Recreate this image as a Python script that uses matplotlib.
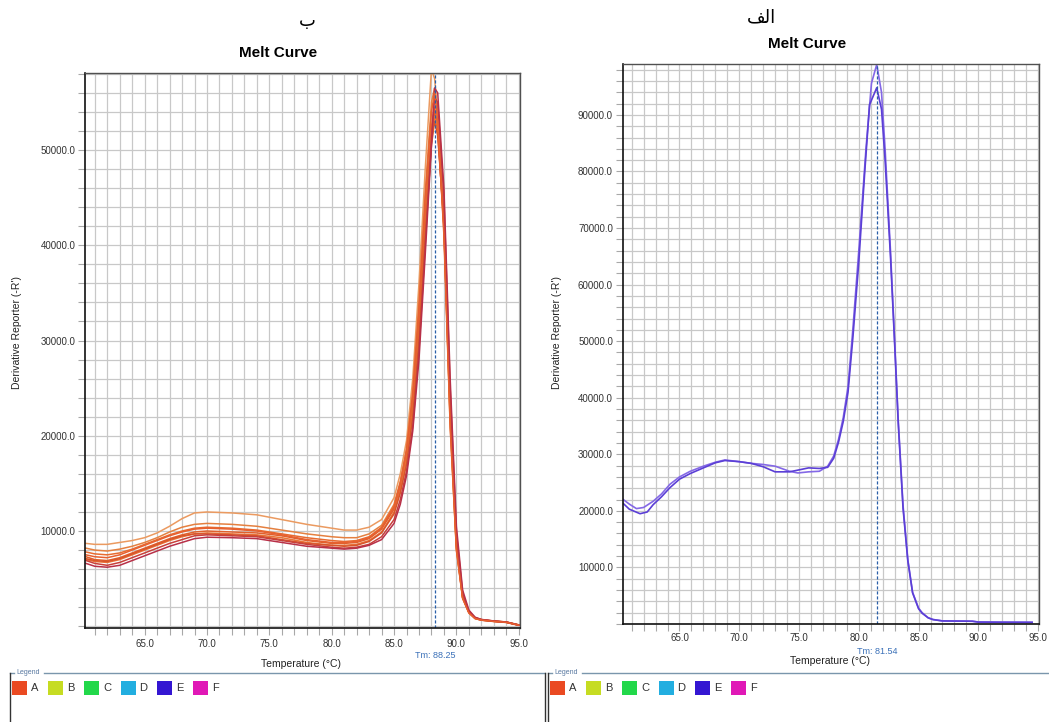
import matplotlib
matplotlib.use("Agg")
import matplotlib.pyplot as plt
from matplotlib.patches import Rectangle
from matplotlib.lines import Line2D
from matplotlib.ticker import MultipleLocator, FormatStrFormatter

plt.rcParams['font.family'] = ['Liberation Sans', 'DejaVu Sans']

# ---- data: panel "ب" (left), 9 wells, derivative reporter vs temperature
temps_b = [60.3, 61, 62, 63, 64, 65, 66, 67, 68, 69, 70, 72, 74, 76, 78, 80, 81, 82, 83, 84,
           85, 85.5, 86, 86.5, 87, 87.5, 88, 88.25, 88.5, 89, 89.5, 90, 90.5, 91, 91.5, 92, 93, 94, 95]
well_b1 = [8700, 8600, 8600, 8800, 9000, 9300, 9800, 10500, 11300, 11900, 12000, 11900, 11700, 11200, 10700, 10300, 10100, 10100, 10400, 11200,
           13500, 16000, 19500, 26000, 36000, 48000, 58500, 57500, 54000, 42000, 21000, 8000, 3000, 1500, 900, 700, 550, 450, 150]
well_b2 = [8200, 8000, 7900, 8100, 8400, 8800, 9300, 9900, 10400, 10700, 10800, 10700, 10500, 10100, 9700, 9400, 9300, 9300, 9700, 10600,
           12800, 15200, 18600, 24500, 34000, 45500, 55000, 56500, 53500, 42000, 21500, 8200, 3000, 1500, 900, 700, 550, 450, 150]
well_b3 = [7800, 7600, 7500, 7700, 8100, 8600, 9100, 9600, 10000, 10300, 10400, 10300, 10100, 9700, 9300, 9000, 8900, 9000, 9400, 10400,
           12600, 15000, 18300, 23800, 32500, 43500, 52500, 54500, 52500, 41500, 21800, 8300, 3000, 1500, 850, 680, 530, 430, 130]
well_b4 = [7300, 7000, 6900, 7200, 7700, 8200, 8700, 9200, 9600, 9900, 10000, 9900, 9800, 9500, 9000, 8700, 8700, 8800, 9200, 10200,
           12300, 14600, 17800, 23000, 31500, 42500, 51500, 54000, 52000, 42000, 22500, 8500, 3000, 1400, 800, 650, 520, 420, 120]
well_b5 = [7000, 6800, 6700, 7000, 7500, 8000, 8500, 9000, 9400, 9700, 9800, 9700, 9600, 9300, 8800, 8500, 8500, 8600, 9000, 9900,
           12000, 14300, 17500, 22500, 30500, 41500, 51000, 53500, 52500, 43000, 23500, 9000, 3200, 1500, 850, 650, 520, 420, 120]
well_b6 = [7100, 6900, 6800, 7100, 7600, 8100, 8600, 9100, 9500, 9700, 9700, 9600, 9500, 9100, 8700, 8500, 8400, 8500, 8900, 9800,
           11800, 14000, 17000, 22000, 30000, 41000, 50500, 53000, 51500, 42500, 23000, 8800, 3100, 1450, 820, 640, 500, 400, 100]
well_b7 = [6900, 6600, 6400, 6700, 7200, 7700, 8200, 8700, 9100, 9500, 9600, 9500, 9400, 9000, 8600, 8300, 8200, 8300, 8600, 9400,
           11200, 13300, 16300, 21000, 29000, 40000, 51000, 55500, 55000, 45000, 25000, 9800, 3500, 1600, 900, 700, 540, 440, 130]
well_b8 = [6600, 6300, 6200, 6400, 6900, 7400, 7900, 8400, 8800, 9200, 9350, 9300, 9200, 8800, 8400, 8200, 8100, 8200, 8500, 9100,
           10800, 12800, 15800, 20500, 28000, 39000, 50500, 56500, 56000, 46000, 26000, 10500, 3800, 1700, 950, 720, 560, 450, 130]
well_b9 = [7500, 7300, 7200, 7500, 8000, 8500, 9000, 9500, 9900, 10200, 10300, 10200, 10000, 9600, 9100, 8800, 8800, 8900, 9300, 10300,
           12500, 15000, 18500, 24500, 33500, 45000, 54000, 56000, 53000, 41000, 21000, 8000, 2900, 1400, 820, 660, 520, 420, 120]
wells_b = [well_b1, well_b2, well_b3, well_b4, well_b5, well_b6, well_b7, well_b8, well_b9]
colors_b = ['#eb9a60', '#e58040', '#e86b30', '#e0602c', '#ea7438', '#d8552a', '#c8403a', '#b83048', '#e76030']
tm_b = 88.25

# ---- data: panel "الف" (right), 2 wells
temps_a1 = [60.3, 60.8, 61.4, 62.0, 62.8, 63.5, 64.2, 65.0, 65.9, 67.0, 68.0, 68.8, 70.0, 71.0, 72.0, 73.0, 74.2, 74.9, 75.8,
            76.7, 77.4, 77.9, 78.3, 78.7, 79.1, 79.5, 80.0, 80.6, 81.06, 81.5, 81.9, 82.2, 82.65, 83.0, 83.3, 83.7, 84.1,
            84.5, 85.0, 85.3, 85.8, 86.2, 87.0, 89.0, 89.5, 90.0, 92.0, 94.5]
well_a1 = [22000, 21200, 20400, 20600, 21700, 23000, 24700, 26000, 27000, 27900, 28600, 29000, 28700, 28400, 28200, 27900, 27000, 26700, 26900,
           27000, 27900, 29700, 32600, 36500, 42000, 52000, 66000, 84000, 95600, 98900, 94000, 84000, 66000, 50000, 36000, 21000, 11400,
           5600, 2800, 2000, 1100, 800, 550, 500, 500, 350, 320, 300]
temps_a2 = [60.3, 60.8, 61.7, 62.3, 62.8, 63.5, 64.2, 65.0, 65.9, 67.0, 68.0, 68.8, 70.0, 71.0, 72.0, 73.0, 74.2, 74.9, 75.8,
            76.7, 77.4, 77.9, 78.3, 78.7, 79.1, 79.5, 80.0, 80.5, 80.9, 81.5, 81.9, 82.2, 82.65, 83.0, 83.3, 83.7, 84.1,
            84.5, 85.0, 85.3, 85.8, 86.2, 87.0, 89.0, 89.5, 90.0, 92.0, 94.5]
well_a2 = [21300, 20300, 19500, 19800, 21100, 22500, 24100, 25600, 26600, 27600, 28500, 28900, 28700, 28400, 27800, 26900, 26900, 27200, 27600,
           27500, 27700, 29300, 32100, 35800, 41000, 50500, 64000, 80000, 91800, 94800, 91000, 82000, 65000, 49500, 35500, 20500, 11200,
           5500, 2700, 1900, 1100, 780, 540, 500, 480, 340, 310, 290]
colors_a = ['#8468e6', '#5b3fd6']
tm_a = 81.54

legend_labels = ['A', 'B', 'C', 'D', 'E', 'F']
legend_colors = ['#ea4a22', '#c6dc22', '#22d84a', '#22aee0', '#3416d2', '#e018b6']

W, H = 1049, 722


def fx(px):
    return px / W


def fy(py):
    return 1 - py / H


def style_axes(ax, ymax, ybottom, major_top, xpad):
    ax.set_xlim(60.25, 95.1)
    ax.set_ylim(ybottom, ymax)
    ax.xaxis.set_major_locator(MultipleLocator(5))
    ax.xaxis.set_minor_locator(MultipleLocator(1))
    ax.xaxis.set_major_formatter(FormatStrFormatter('%.1f'))
    ax.set_yticks(list(range(10000, major_top + 1, 10000)))
    ax.yaxis.set_minor_locator(MultipleLocator(2000))
    ax.yaxis.set_major_formatter(FormatStrFormatter('%.1f'))
    ax.grid(True, which='both', color='#c8c8c8', linewidth=0.9)
    ax.set_axisbelow(True)
    ax.tick_params(which='both', direction='out', length=5, width=0.8, color='#a8a8a8',
                   labelsize=7, labelcolor='#333333', pad=2)
    ax.tick_params(axis='x', which='both', pad=xpad)
    for side in ['left', 'bottom']:
        ax.spines[side].set_color('#111111')
        ax.spines[side].set_linewidth(1.2)
    for side in ['top', 'right']:
        ax.spines[side].set_color('#505050')
        ax.spines[side].set_linewidth(1.0)


fig = plt.figure(figsize=(W / 100, H / 100), dpi=100)

# left panel
ax_b = fig.add_axes([fx(85.4), fy(628), fx(520) - fx(85.4), fy(73.3) - fy(628)])
style_axes(ax_b, 58050, -180, 50000, 3)
for well, c in zip(wells_b, colors_b):
    ax_b.plot(temps_b, well, color=c, linewidth=1.1)
ax_b.axvline(tm_b, color='#2a5fa8', linestyle=(0, (2.5, 1.5)), linewidth=0.9)

# right panel
ax_a = fig.add_axes([fx(622.7), fy(624), fx(1039.3) - fx(622.7), fy(64) - fy(624)])
style_axes(ax_a, 99000, 0, 90000, 1.5)
ax_a.plot(temps_a1, well_a1, color=colors_a[0], linewidth=1.2)
ax_a.plot(temps_a2, well_a2, color=colors_a[1], linewidth=1.2)
ax_a.axvline(tm_a, color='#2a5fa8', linestyle=(0, (2.5, 1.5)), linewidth=0.9)

# texts
fig.text(fx(307), fy(21), 'ب', family='DejaVu Sans', fontsize=13, ha='center', va='center')
# feh final + lam initial + alef isolated, in visual order
fig.text(fx(761), fy(17), '\uFED2\uFEDF\uFE8D', family='DejaVu Sans', fontsize=13, ha='center', va='center')
fig.text(fx(278), fy(53), 'Melt Curve', fontsize=11, fontweight='bold', ha='center', va='center')
fig.text(fx(807), fy(44), 'Melt Curve', fontsize=11, fontweight='bold', ha='center', va='center')
fig.text(fx(17), fy(333), "Derivative Reporter (-R')", fontsize=7.5, rotation=90, ha='center', va='center', color='#222222')
fig.text(fx(557), fy(333), "Derivative Reporter (-R')", fontsize=7.5, rotation=90, ha='center', va='center', color='#222222')
fig.text(fx(301), fy(664), 'Temperature (°C)', fontsize=7.5, ha='center', va='center', color='#222222')
fig.text(fx(830), fy(661), 'Temperature (°C)', fontsize=7.5, ha='center', va='center', color='#222222')
fig.text(fx(435), fy(655), 'Tm: %.2f' % tm_b, fontsize=6.5, ha='center', va='center', color='#3a70b8')
fig.text(fx(877), fy(651), 'Tm: %.2f' % tm_a, fontsize=6.5, ha='center', va='center', color='#3a70b8')

# legend boxes at the bottom
frame_c = '#7a96ac'
for x0, x1 in [(10, 545), (548, 1049)]:
    fig.add_artist(Line2D([fx(x0), fx(x0 + 4)], [fy(673), fy(673)], color=frame_c, linewidth=1.0))
    fig.add_artist(Line2D([fx(x0 + 34), fx(x1)], [fy(673), fy(673)], color=frame_c, linewidth=1.0))
    fig.add_artist(Line2D([fx(x0), fx(x0)], [fy(673), fy(722)], color='#333333', linewidth=1.0))
    if x1 < W:
        fig.add_artist(Line2D([fx(x1), fx(x1)], [fy(673), fy(722)], color='#333333', linewidth=1.0))
    fig.text(fx(x0 + 6), fy(673), 'Legend', fontsize=5, color='#5878a0', ha='left', va='center')
    for i, (lab, c) in enumerate(zip(legend_labels, legend_colors)):
        sx = x0 + 2 + i * 36.2
        fig.add_artist(Rectangle((fx(sx), fy(695)), 15 / W, 14 / H, facecolor=c, edgecolor='none'))
        fig.text(fx(sx + 19), fy(688), lab, fontsize=8, color='#333333', ha='left', va='center')

fig.savefig('out.png', dpi=100)
